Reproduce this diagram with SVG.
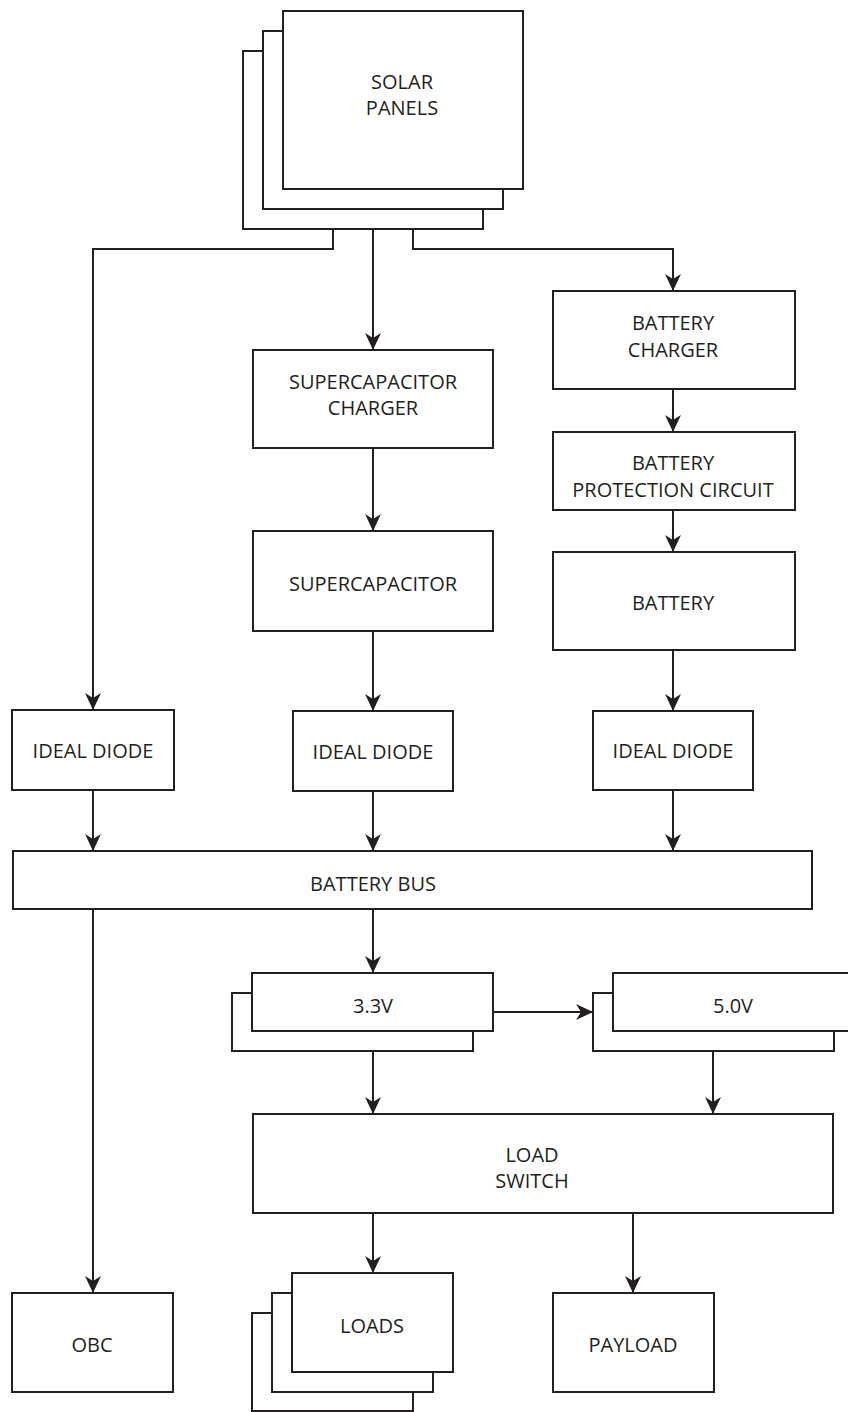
<svg xmlns="http://www.w3.org/2000/svg" width="848" height="1412" viewBox="0 0 848 1412">
<style>
.b{fill:#fff;stroke:#231f20;stroke-width:2}
.c{fill:none;stroke:#231f20;stroke-width:2}
text{font-family:"Open Sans","Liberation Sans",sans-serif;font-size:20px;fill:#231f20;text-anchor:middle}
</style>
<defs>
<marker id="ah" viewBox="0 0 17 16" markerWidth="17" markerHeight="16" refX="17" refY="8" orient="auto" markerUnits="userSpaceOnUse">
<path d="M0,0 L17,8 L0,16 L5,8 Z" fill="#231f20"/>
</marker>
</defs>
<rect width="848" height="1412" fill="#fff"/>
<g id="connectors">
<path class="c" d="M333,229 V249 H93 V710" marker-end="url(#ah)"/>
<path class="c" d="M373,229 V350" marker-end="url(#ah)"/>
<path class="c" d="M413,229 V249 H673 V291" marker-end="url(#ah)"/>
<path class="c" d="M673,389 V432" marker-end="url(#ah)"/>
<path class="c" d="M673,510 V552" marker-end="url(#ah)"/>
<path class="c" d="M673,650 V711" marker-end="url(#ah)"/>
<path class="c" d="M373,448 V531" marker-end="url(#ah)"/>
<path class="c" d="M373,631 V711" marker-end="url(#ah)"/>
<path class="c" d="M93,790 V851" marker-end="url(#ah)"/>
<path class="c" d="M373,791 V851" marker-end="url(#ah)"/>
<path class="c" d="M673,790 V851" marker-end="url(#ah)"/>
<path class="c" d="M93,909 V1293" marker-end="url(#ah)"/>
<path class="c" d="M373,909 V973" marker-end="url(#ah)"/>
<path class="c" d="M493,1012 H593" marker-end="url(#ah)"/>
<path class="c" d="M373,1051 V1114" marker-end="url(#ah)"/>
<path class="c" d="M713,1051 V1114" marker-end="url(#ah)"/>
<path class="c" d="M373,1213 V1273" marker-end="url(#ah)"/>
<path class="c" d="M633,1213 V1293" marker-end="url(#ah)"/>
</g>
<g id="solar-panels">
<rect class="b" x="243" y="51" width="240" height="178"/>
<rect class="b" x="263" y="31" width="240" height="178"/>
<rect class="b" x="283" y="11" width="240" height="178"/>
<text x="402" y="89">SOLAR</text>
<text x="402" y="115">PANELS</text>
</g>
<g id="supercap-charger">
<rect class="b" x="253" y="350" width="240" height="98"/>
<text x="373" y="389">SUPERCAPACITOR</text>
<text x="373" y="415">CHARGER</text>
</g>
<g id="supercapacitor">
<rect class="b" x="253" y="531" width="240" height="100"/>
<text x="373" y="591">SUPERCAPACITOR</text>
</g>
<g id="battery-charger">
<rect class="b" x="553" y="291" width="242" height="98"/>
<text x="673" y="330">BATTERY</text>
<text x="673" y="357">CHARGER</text>
</g>
<g id="battery-protection">
<rect class="b" x="553" y="432" width="242" height="78"/>
<text x="673" y="470">BATTERY</text>
<text x="673" y="497">PROTECTION CIRCUIT</text>
</g>
<g id="battery">
<rect class="b" x="553" y="552" width="242" height="98"/>
<text x="673" y="610">BATTERY</text>
</g>
<g id="ideal-diode-1">
<rect class="b" x="12" y="710" width="162" height="80"/>
<text x="93" y="758">IDEAL DIODE</text>
</g>
<g id="ideal-diode-2">
<rect class="b" x="293" y="711" width="160" height="80"/>
<text x="373" y="759">IDEAL DIODE</text>
</g>
<g id="ideal-diode-3">
<rect class="b" x="593" y="711" width="160" height="79"/>
<text x="673" y="758">IDEAL DIODE</text>
</g>
<g id="battery-bus">
<rect class="b" x="13" y="851" width="799" height="58"/>
<text x="373" y="891">BATTERY BUS</text>
</g>
<g id="reg-3v3">
<rect class="b" x="232" y="993" width="241" height="58"/>
<rect class="b" x="252" y="973" width="241" height="58"/>
<text x="373" y="1013">3.3V</text>
</g>
<g id="reg-5v0">
<rect class="b" x="593" y="993" width="241" height="58"/>
<rect class="b" x="613" y="973" width="241" height="58"/>
<text x="733" y="1013">5.0V</text>
</g>
<g id="load-switch">
<rect class="b" x="253" y="1114" width="580" height="99"/>
<text x="532" y="1162">LOAD</text>
<text x="532" y="1188">SWITCH</text>
</g>
<g id="obc">
<rect class="b" x="12" y="1293" width="161" height="99"/>
<text x="92" y="1352">OBC</text>
</g>
<g id="loads">
<rect class="b" x="252" y="1313" width="161" height="98"/>
<rect class="b" x="272" y="1293" width="161" height="99"/>
<rect class="b" x="292" y="1273" width="161" height="99"/>
<text x="372" y="1333">LOADS</text>
</g>
<g id="payload">
<rect class="b" x="553" y="1293" width="161" height="99"/>
<text x="633" y="1352">PAYLOAD</text>
</g>
</svg>
